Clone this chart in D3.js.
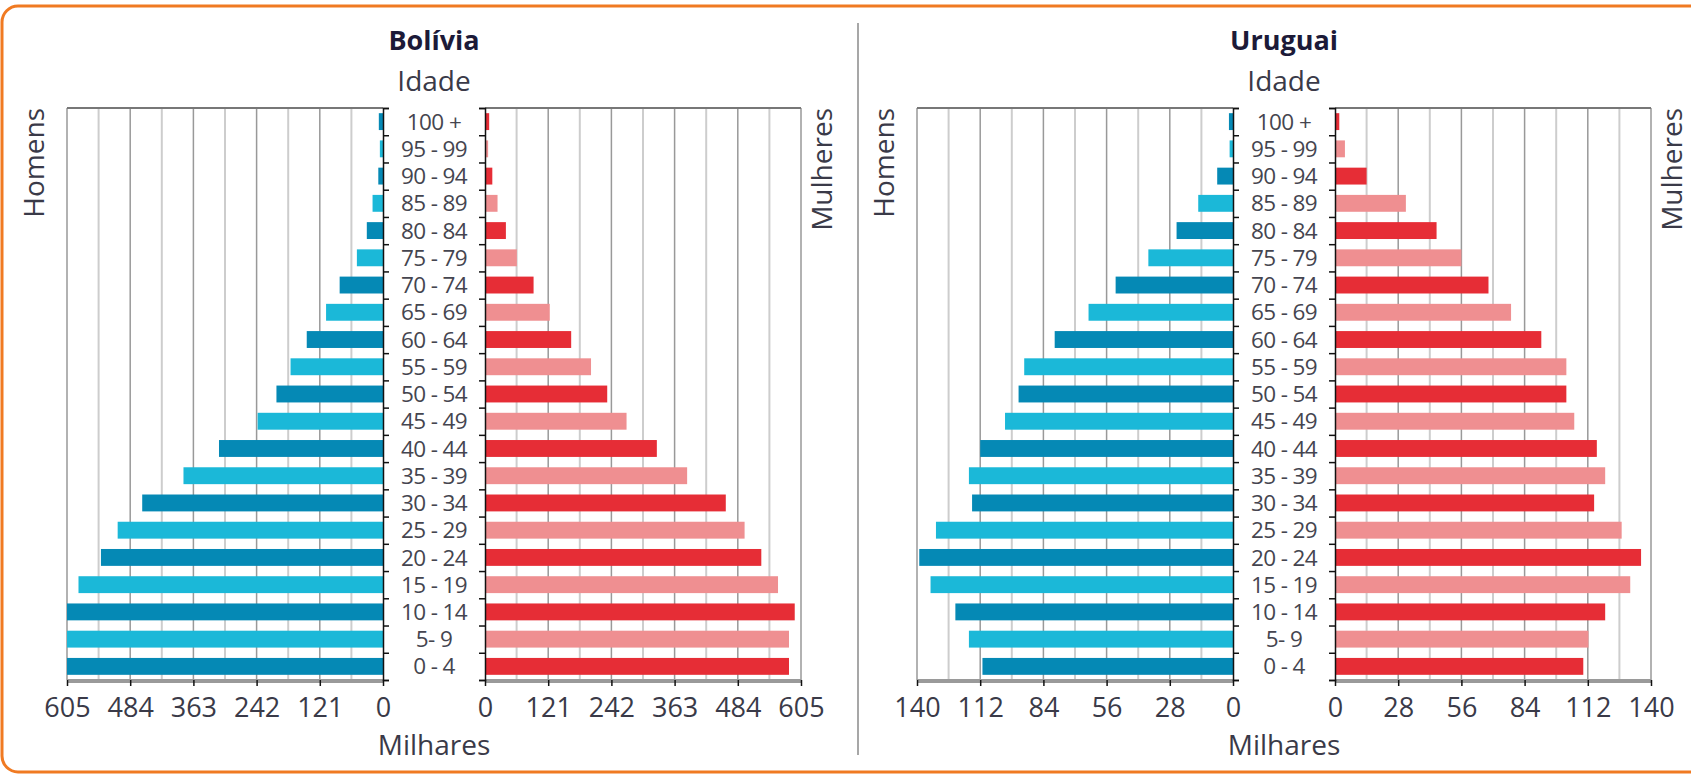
<!DOCTYPE html>
<html>
<head>
<meta charset="utf-8">
<script src="https://cdn.jsdelivr.net/npm/d3@7"></script>
<style>
  body { margin: 0; background: #fff; }
  svg text { font-family: "Open Sans", "DejaVu Sans", sans-serif; }
</style>
</head>
<body>
<script>
// age groups, top to bottom
var ages = ["100 +", "95 - 99", "90 - 94", "85 - 89", "80 - 84", "75 - 79", "70 - 74",
    "65 - 69", "60 - 64", "55 - 59", "50 - 54", "45 - 49", "40 - 44", "35 - 39",
    "30 - 34", "25 - 29", "20 - 24", "15 - 19", "10 - 14", "5- 9", "0 - 4"];

// population in thousands (same order as ages)
var boliviaMen = [8, 6, 9, 20, 31, 50, 83, 109, 146, 177, 204, 240, 314, 382, 461, 508, 540, 583, 605, 605, 605];
var boliviaWomen = [8, 6, 14, 24, 40, 61, 93, 124, 165, 203, 234, 271, 329, 387, 461, 497, 529, 561, 593, 582, 582];
var uruguayMen = [1.8, 1.5, 7, 15.4, 25, 37.5, 52, 64, 79, 92.5, 95, 101, 112, 117, 115.6, 131.6, 139, 134, 123, 117, 111];
var uruguayWomen = [1.9, 4.4, 14, 31.4, 45, 56, 68, 78, 91.4, 102.5, 102.5, 106, 116, 119.7, 114.8, 127, 135.6, 130.8, 119.7, 112.3, 110];

// axis tick labels
var boliviaTicks = [0, 121, 242, 363, 484, 605];
var uruguayTicks = [0, 28, 56, 84, 112, 140];

var width = 1691, height = 774;
var plotTop = 108, plotBottom = 680;
var halfGap = 51, plotWidth = 316;

var svg = d3.select("body")
    .append("svg")
    .attr("width", width)
    .attr("height", height);

//orange frame
svg.append("rect")
    .attr("x", 2)
    .attr("y", 6)
    .attr("width", 1720)
    .attr("height", 766)
    .attr("rx", 16)
    .attr("fill", "none")
    .attr("stroke", "#f07a22")
    .attr("stroke-width", 3);

//divider between the two pyramids
svg.append("line")
    .attr("x1", 858).attr("x2", 858)
    .attr("y1", 23).attr("y2", 755)
    .attr("stroke", "#8a8a8a")
    .attr("stroke-width", 1.5);

var colors = {
    menDark: "#0589b5", menLight: "#1bb8d8",
    womenDark: "#e62d36", womenLight: "#ef8f91"
};

//function to draw one pyramid around a centre x
function drawPyramid(cx, title, men, women, ticks) {
    var g = svg.append("g");
    var max = ticks[ticks.length - 1];
    var zeroL = cx - halfGap, zeroR = cx + halfGap;

    var y = d3.scaleBand()
        .domain(ages)
        .range([plotTop, plotBottom])
        .paddingInner(0.38)
        .paddingOuter(0.19);

    var xLeft = d3.scaleLinear().domain([0, max]).range([zeroL, zeroL - plotWidth]);
    var xRight = d3.scaleLinear().domain([0, max]).range([zeroR, zeroR + plotWidth]);

    //minor gridlines half way between labelled ticks
    var minor = d3.pairs(ticks).map(function (p) { return (p[0] + p[1]) / 2; });

    [xLeft, xRight].forEach(function (x) {
        g.selectAll(null)
            .data(minor)
            .enter()
            .append("line")
            .attr("x1", function (d) { return x(d); })
            .attr("x2", function (d) { return x(d); })
            .attr("y1", plotTop).attr("y2", plotBottom)
            .attr("stroke", "#cdcdcd")
            .attr("stroke-width", 2);

        g.selectAll(null)
            .data(ticks.slice(1))
            .enter()
            .append("line")
            .attr("x1", function (d) { return x(d); })
            .attr("x2", function (d) { return x(d); })
            .attr("y1", plotTop).attr("y2", plotBottom)
            .attr("stroke", "#999")
            .attr("stroke-width", 1.5);

        //top border
        g.append("line")
            .attr("x1", x(0)).attr("x2", x(max))
            .attr("y1", plotTop).attr("y2", plotTop)
            .attr("stroke", "#777")
            .attr("stroke-width", 2);
    });

    //men bars
    g.selectAll(".men")
        .data(men)
        .enter()
        .append("rect")
        .attr("class", "men")
        .attr("x", function (d) { return xLeft(d); })
        .attr("y", function (d, i) { return y(ages[i]); })
        .attr("width", function (d) { return xLeft(0) - xLeft(d); })
        .attr("height", y.bandwidth())
        .style("fill", function (d, i) { return i % 2 == 0 ? colors.menDark : colors.menLight; });

    //women bars
    g.selectAll(".women")
        .data(women)
        .enter()
        .append("rect")
        .attr("class", "women")
        .attr("x", xRight(0))
        .attr("y", function (d, i) { return y(ages[i]); })
        .attr("width", function (d) { return xRight(d) - xRight(0); })
        .attr("height", y.bandwidth())
        .style("fill", function (d, i) { return i % 2 == 0 ? colors.womenDark : colors.womenLight; });

    //bottom axes
    [xLeft, xRight].forEach(function (x) {
        g.append("line")
            .attr("x1", x(0)).attr("x2", x(max))
            .attr("y1", plotBottom + 1).attr("y2", plotBottom + 1)
            .attr("stroke", "#9a9a9a")
            .attr("stroke-width", 4);

        var ax = g.append("g")
            .attr("transform", "translate(0," + plotBottom + ")")
            .call(d3.axisBottom(x).tickValues(ticks).tickSize(6).tickPadding(12));
        ax.select(".domain").remove();
        ax.selectAll(".tick line").attr("stroke", "#111").attr("stroke-width", 1.5);
        ax.selectAll("text")
            .attr("font-size", 27)
            .attr("fill", "#3a3a48");
    });

    //age axes with ticks on band edges
    var edges = d3.scaleLinear().domain([0, ages.length]).range([plotTop, plotBottom]);
    var axL = g.append("g")
        .attr("transform", "translate(" + zeroL + ",0)")
        .call(d3.axisRight(edges).ticks(ages.length).tickSize(6).tickFormat(""));
    var axR = g.append("g")
        .attr("transform", "translate(" + zeroR + ",0)")
        .call(d3.axisLeft(edges).ticks(ages.length).tickSize(6).tickFormat(""));
    [axL, axR].forEach(function (ax) {
        ax.select(".domain").attr("stroke", "#111").attr("stroke-width", 1.5);
        ax.selectAll(".tick line").attr("stroke", "#111").attr("stroke-width", 1.5);
    });

    //age labels
    g.selectAll(".age")
        .data(ages)
        .enter()
        .append("text")
        .attr("class", "age")
        .attr("x", cx)
        .attr("y", function (d) { return y(d) + y.bandwidth() / 2; })
        .attr("dy", "0.36em")
        .attr("text-anchor", "middle")
        .attr("font-size", 22.5)
        .attr("letter-spacing", -0.6)
        .attr("fill", "#45454f")
        .text(function (d) { return d; });

    //titles
    g.append("text")
        .attr("x", cx).attr("y", 50)
        .attr("text-anchor", "middle")
        .attr("font-size", 27)
        .attr("font-weight", "bold")
        .attr("fill", "#1c1a38")
        .text(title);

    g.append("text")
        .attr("x", cx).attr("y", 91)
        .attr("text-anchor", "middle")
        .attr("font-size", 28)
        .attr("fill", "#3a3a48")
        .text("Idade");

    g.append("text")
        .attr("x", cx).attr("y", 755)
        .attr("text-anchor", "middle")
        .attr("font-size", 28)
        .attr("fill", "#3a3a48")
        .text("Milhares");

    g.append("text")
        .attr("transform", "translate(" + (zeroL - plotWidth - 23) + "," + plotTop + ") rotate(-90)")
        .attr("text-anchor", "end")
        .attr("font-size", 28)
        .attr("fill", "#3a3a48")
        .text("Homens");

    g.append("text")
        .attr("transform", "translate(" + (zeroR + plotWidth + 31) + "," + plotTop + ") rotate(-90)")
        .attr("text-anchor", "end")
        .attr("font-size", 28)
        .attr("fill", "#3a3a48")
        .text("Mulheres");
}

drawPyramid(434, "Bolívia", boliviaMen, boliviaWomen, boliviaTicks);
drawPyramid(1284, "Uruguai", uruguayMen, uruguayWomen, uruguayTicks);
</script>
</body>
</html>
